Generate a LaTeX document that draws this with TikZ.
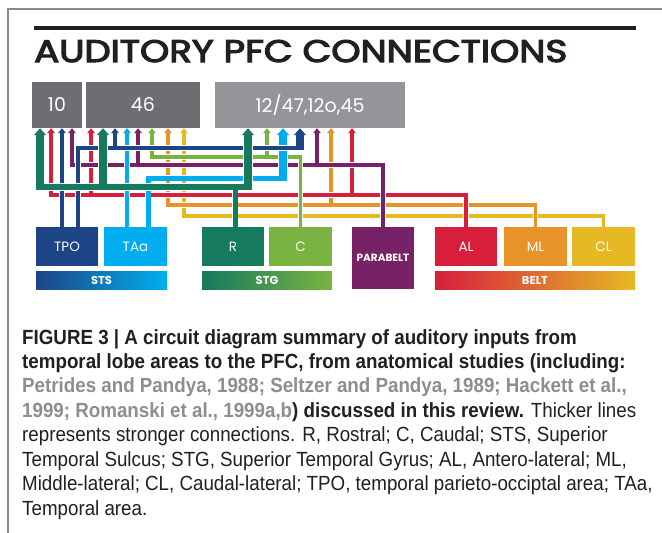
\documentclass[tikz,border=0pt]{standalone}
\usepackage{fontspec}
\usepackage{graphicx}
\usetikzlibrary{arrows.meta}
\newfontfamily\pop{Poppins}
\newfontfamily\popt[FakeBold=3.5]{Poppins}
\newfontfamily\capf[FakeStretch=0.915]{Liberation Sans}
\newfontfamily\capb[FakeStretch=0.915]{Liberation Sans}
\newcommand\cb{\capb\bfseries}
\definecolor{dgray}{HTML}{6D6E71}
\definecolor{lgray}{HTML}{939598}
\definecolor{tpo}{HTML}{1D4586}
\definecolor{taa}{HTML}{00AEEF}
\definecolor{rg}{HTML}{157A5E}
\definecolor{cg}{HTML}{7AB342}
\definecolor{pb}{HTML}{772167}
\definecolor{al}{HTML}{D71F3C}
\definecolor{ml}{HTML}{E8922A}
\definecolor{cl}{HTML}{E6B924}
\definecolor{ink}{HTML}{231F20}
\definecolor{citec}{HTML}{8C8E90}
\definecolor{framec}{HTML}{8A8A8A}
\newcommand\wgroup[1]{\def\wmode{h}#1\def\wmode{c}#1}
\newcommand\wseg[4]{\if h\wmode\draw[white,line width=#2+1.6pt] #4;\else\draw[#1,line width=#2,#3] #4;\fi}
\tikzset{
  box/.style={inner sep=0pt, text=white, font=\pop\fontsize{13.5}{14}\selectfont},
  pfc/.style={box, minimum height=46pt, font=\pop\fontsize{19}{20}\selectfont},
  srcbox/.style={box, minimum height=39pt, minimum width=62pt},
  barbox/.style={inner sep=0pt, minimum height=18pt, text=white, font=\pop\bfseries\fontsize{11.5}{12}\selectfont},
  tipS/.style={-{Triangle[width=7.5pt,length=5pt]}},
  tipL/.style={-{Triangle[width=12pt,length=7pt]}},
  capline/.style={anchor=base west, inner sep=0pt, text=ink, font=\capf\fontsize{20.5}{25}\selectfont},
}
\begin{document}
\begin{tikzpicture}[x=1pt,y=-1pt]
\useasboundingbox (0,0) rectangle (662,533);
\fill[white] (0,0) rectangle (662,533);
% frame
\draw[framec, line width=1.3pt] (8,533) -- (8,9) -- (662,9);
% title
\draw[ink, line width=3.5pt] (34,28) -- (636,28);
\node[anchor=base west, inner sep=0pt, text=ink] (title) at (34,62)
  {\resizebox{533pt}{22pt}{\popt AUDITORY PFC CONNECTIONS}};
% PFC boxes
\node[pfc, fill=dgray, minimum width=50pt] (b10) at (57,105) {10};
\node[pfc, fill=dgray, minimum width=114pt] (b46) at (143,105) {46};
\node[pfc, fill=lgray, minimum width=190pt] (b12) at (310,105) {12/47,12o,45};
% source boxes
\node[srcbox, fill=tpo] (TPO) at (67,246.5) {TPO};
\node[srcbox, fill=taa, minimum width=63pt] (TAa) at (135.5,246.5) {TAa};
\node[srcbox, fill=rg] (R) at (233,246.5) {R};
\node[srcbox, fill=cg, minimum width=63pt] (C) at (300.5,246.5) {C};
\node[srcbox, fill=pb, minimum height=62pt, font=\pop\bfseries\fontsize{10.5}{11}\selectfont] (PB) at (383,258) {PARABELT};
\node[srcbox, fill=al] (AL) at (466,246.5) {AL};
\node[srcbox, fill=ml, minimum width=63pt] (ML) at (535.5,246.5) {ML};
\node[srcbox, fill=cl, minimum width=63pt] (CL) at (603.5,246.5) {CL};
% bars
\node[barbox, minimum width=131pt, left color=tpo, right color=taa] (STS) at (101.5,280) {STS};
\node[barbox, minimum width=130pt, left color=rg, right color=cg] (STG) at (267,280) {STG};
\node[barbox, minimum width=200pt, left color=al, middle color=ml, right color=cl] (BELT) at (535,280) {BELT};
% columns and rows
\foreach \n/\v in {c40/40,c51/51,c62/62,c72/72,c78/78,c91/91,c103/103,c115/115,c127/127,c138/138,c148/148,c152/152,c168/168,c184/184,c235/235,c248/248,c252/252,c267/267,c283/283,c300/300,c317/317,c331/331,c352/352}
  \coordinate (\n) at (\v,0);
\foreach \n/\v in {rB/148,rBb/150.25,rLG/157,rP/165,rC/178,rCb/180.5,rG/187,rGb/190,rR/195,rO/205,rY/216}
  \coordinate (\n) at (0,\v);
% yellow (CL)
\wgroup{\wseg{cl}{3.6pt}{tipS}{(CL.north) |- (c184 |- rY) -- (b46.south -| c184)}}
% orange (ML)
\wgroup{\wseg{ml}{3.6pt}{tipS}{(ML.north) |- (c168 |- rO) -- (b46.south -| c168)}%
  \wseg{ml}{3.6pt}{tipS}{(c331 |- rO) -- (b12.south -| c331)}}
% red (AL)
\wgroup{\wseg{al}{3.6pt}{tipS}{(AL.north) |- (c51 |- rR) -- (b10.south -| c51)}%
  \wseg{al}{3.6pt}{tipS}{(c91 |- rR) -- (b46.south -| c91)}%
  \wseg{al}{3.6pt}{tipS}{(c352 |- rR) -- (b12.south -| c352)}}
% purple (PARABELT)
\wgroup{\wseg{pb}{3.8pt}{tipS}{(PB.north) |- (c72 |- rP) -- (b10.south -| c72)}%
  \wseg{pb}{3.8pt}{tipS}{(c138 |- rP) -- (b46.south -| c138)}%
  \wseg{pb}{3.8pt}{tipS}{(c317 |- rP) -- (b12.south -| c317)}}
% light green (C)
\wgroup{\wseg{cg}{3.8pt}{tipS}{(C.north) |- (c152 |- rLG) -- (b46.south -| c152)}%
  \wseg{cg}{3.8pt}{tipS}{(c267 |- rLG) -- (b12.south -| c267)}}
% cyan (TAa)
\wgroup{\wseg{taa}{4.5pt}{tipS}{(TAa.north -| c127) -- (b46.south -| c127)}%
  \wseg{taa}{5pt}{}{(TAa.north -| c148) |- (c283 |- rC)}%
  \wseg{taa}{8.5pt}{tipL}{(c283 |- rCb) -- (b12.south -| c283)}}
% blue (TPO)
\wgroup{\wseg{tpo}{4.5pt}{tipS}{(TPO.north -| c62) -- (b10.south -| c62)}%
  \wseg{tpo}{4.5pt}{}{(TPO.north -| c78) |- (c300 |- rB)}%
  \wseg{tpo}{3.8pt}{tipS}{(c115 |- rB) -- (b46.south -| c115)}%
  \wseg{tpo}{8pt}{tipL}{(c300 |- rBb) -- (b12.south -| c300)}}
% green (R)
\wgroup{\wseg{rg}{5pt}{}{(R.north -| c235) -- (c235 |- rG)}%
  \wseg{rg}{6pt}{}{(c40 |- rG) -- (c252 |- rG)}%
  \wseg{rg}{7.5pt}{tipL}{(c40 |- rGb) -- (b10.south -| c40)}%
  \wseg{rg}{7.5pt}{tipL}{(c103 |- rG) -- (b46.south -| c103)}%
  \wseg{rg}{7.5pt}{tipL}{(c248 |- rGb) -- (b12.south -| c248)}}
% caption
\node[capline] (cap1) at (22,344) {\cb FIGURE 3 | A circuit diagram summary of auditory inputs from};
\node[capline] (cap2) at (22,368.4) {\cb temporal lobe areas to the PFC, from anatomical studies (including:};
\node[capline] (cap3) at (22,392.9) {\cb\color{citec}Petrides and Pandya, 1988; Seltzer and Pandya, 1989; Hackett et al.,};
\node[capline] (cap4) at (22,417.3) {{\cb{\color{citec}1999; Romanski et al., 1999a,b}) discussed in this review.} Thicker lines};
\node[capline] (cap5) at (22,441.8) {represents stronger connections. R, Rostral; C, Caudal; STS, Superior};
\node[capline] (cap6) at (22,466.2) {Temporal Sulcus; STG, Superior Temporal Gyrus; AL, Antero-lateral; ML,};
\node[capline] (cap7) at (22,490.7) {Middle-lateral; CL, Caudal-lateral; TPO, temporal parieto-occiptal area; TAa,};
\node[capline] (cap8) at (22,515.1) {Temporal area.};
\end{tikzpicture}
\end{document}
